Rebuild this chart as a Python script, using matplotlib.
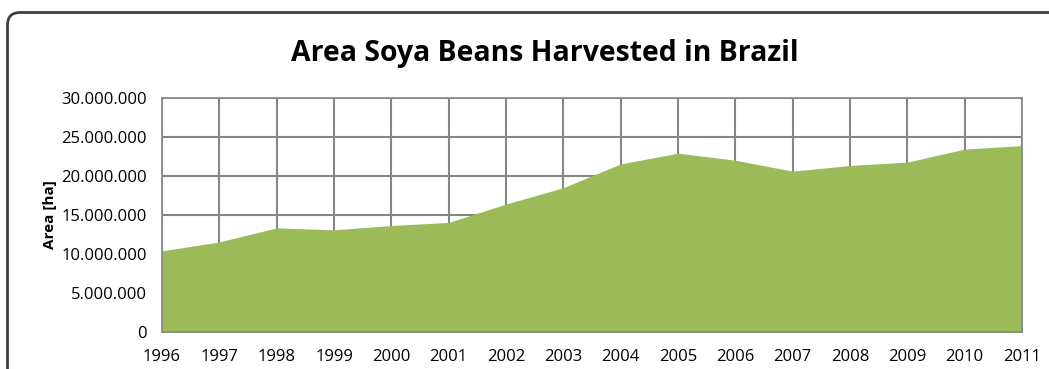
import matplotlib
matplotlib.use("Agg")
import matplotlib.pyplot as plt
from matplotlib.patches import FancyBboxPatch
from matplotlib.ticker import FuncFormatter

years = [1996, 1997, 1998, 1999, 2000, 2001, 2002, 2003,
         2004, 2005, 2006, 2007, 2008, 2009, 2010, 2011]
area_ha = [10.40e6, 11.55e6, 13.35e6, 13.10e6, 13.65e6, 14.05e6, 16.40e6, 18.50e6,
           21.55e6, 22.93e6, 22.02e6, 20.62e6, 21.35e6, 21.78e6, 23.45e6, 23.90e6]
y_ticks = [0, 5e6, 10e6, 15e6, 20e6, 25e6, 30e6]

title = "Area Soya Beans Harvested in Brazil"
ylabel = "Area [ha]"

plt.rcParams['font.family'] = ['Open Sans', 'DejaVu Sans']

W, H = 1049, 369
fig = plt.figure(figsize=(W / 100, H / 100), dpi=100)

# rounded chart border
border = FancyBboxPatch((7.5 / W, -0.2), 1.2, 1 - 12.5 / H + 0.2,
                        boxstyle="round,pad=0,rounding_size=0.012",
                        transform=fig.transFigure, facecolor='none',
                        edgecolor='#404040', linewidth=2, clip_on=False,
                        mutation_aspect=W / H, zorder=5)
fig.patches.append(border)

ax = fig.add_axes([162 / W, 1 - 332 / H, (1022 - 162) / W, (332 - 98) / H])
ax.fill_between(years, area_ha, 0, color='#9BBB59', linewidth=0, zorder=2)
ax.set_xlim(years[0], years[-1])
ax.set_ylim(0, 30e6)
ax.set_xticks(years)
ax.set_yticks(y_ticks)
ax.yaxis.set_major_formatter(FuncFormatter(lambda v, p: f"{int(v):,}".replace(",", ".")))
ax.grid(True, color='#868686', linewidth=1.5, zorder=1)
ax.set_axisbelow(True)
for s in ax.spines.values():
    s.set_color('#868686')
    s.set_linewidth(1.2)
ax.tick_params(axis='both', labelsize=12, colors='#868686', labelcolor='black', length=4)
ax.tick_params(axis='x', direction='in', pad=12)
ax.tick_params(axis='y', length=0, pad=11)
ax.set_ylabel(ylabel, fontsize=11, fontweight='bold', labelpad=3)

fig.text(545 / W, 1 - 54 / H, title, ha='center', va='center',
         fontsize=20.4, fontweight='bold')

fig.savefig("out.png", dpi=100)
